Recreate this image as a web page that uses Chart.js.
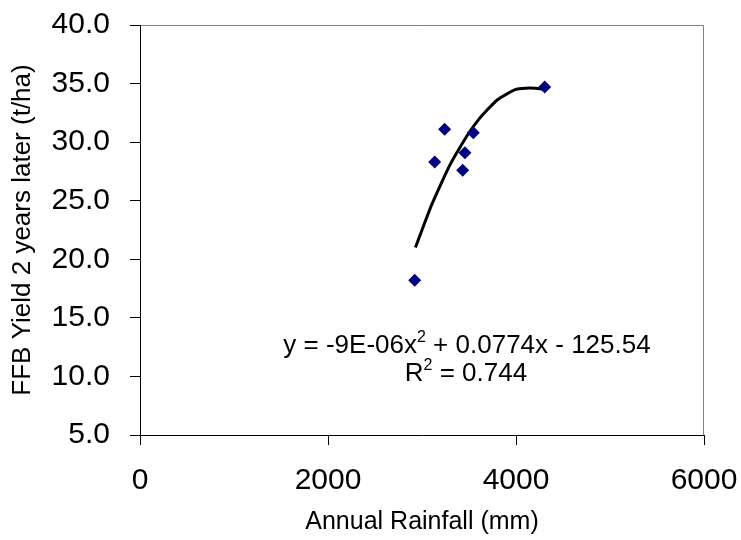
<!DOCTYPE html>
<html>
<head>
<meta charset="utf-8">
<script src="https://cdn.jsdelivr.net/npm/chart.js@4"></script>
<style>
  body { margin: 0; background: #fff; }
</style>
</head>
<body>
<canvas id="grafica" width="741" height="540"></canvas>
<script>
// rainfall vs yield two years later
var lluvia = [2922, 3135, 3241, 3433, 3457, 3546, 4305];
var rendimiento = [18.2, 28.3, 31.1, 27.6, 29.1, 30.8, 34.7];

// trend line
var tendenciaX = [2930, 3000, 3100, 3200, 3300, 3400, 3500, 3600, 3700, 3800, 3900, 4000, 4100, 4200, 4310];
var tendenciaY = [21.0, 22.5, 24.6, 26.4, 28.1, 29.5, 30.8, 31.9, 32.8, 33.6, 34.1, 34.5, 34.6, 34.6, 34.5];

var ticksX = [0, 2000, 4000, 6000];
var ticksY = [5, 10, 15, 20, 25, 30, 35, 40];

var ecuacion = ["y = -9E-06x", "2", " + 0.0774x - 125.54"];
var rCuadrado = ["R", "2", " = 0.744"];

var fuente = "'Liberation Sans', Arial, sans-serif";

var puntos = [];
for (let i = 0; i < lluvia.length; i++) {
    puntos.push({ x: lluvia[i], y: rendimiento[i] });
}
var linea = [];
for (let i = 0; i < tendenciaX.length; i++) {
    linea.push({ x: tendenciaX[i], y: tendenciaY[i] });
}

// draws "base" + superscript + "rest", centred at cx
function textoConSuper(ctx, partes, cx, cy, size) {
    var fGrande = size + "px " + fuente;
    var fChica = Math.round(size * 0.62) + "px " + fuente;
    ctx.font = fGrande;
    var w1 = ctx.measureText(partes[0]).width;
    var w3 = ctx.measureText(partes[2]).width;
    ctx.font = fChica;
    var w2 = ctx.measureText(partes[1]).width;
    var x = cx - (w1 + w2 + w3) / 2;
    ctx.textBaseline = "alphabetic";
    ctx.textAlign = "left";
    var base = cy + size * 0.36;
    ctx.font = fGrande;
    ctx.fillText(partes[0], x, base);
    ctx.font = fChica;
    ctx.fillText(partes[1], x + w1, base - size * 0.42);
    ctx.font = fGrande;
    ctx.fillText(partes[2], x + w1 + w2, base);
}

var marco = {
    id: "marco",
    beforeDraw: function (chart) {
        var a = chart.chartArea;
        var ctx = chart.ctx;
        ctx.save();
        ctx.strokeStyle = "#808080";
        ctx.lineWidth = 1;
        ctx.beginPath();
        ctx.moveTo(a.left, a.top + 0.5);
        ctx.lineTo(a.right - 0.5, a.top + 0.5);
        ctx.lineTo(a.right - 0.5, a.bottom);
        ctx.stroke();
        ctx.restore();
    },
    afterDraw: function (chart) {
        var ctx = chart.ctx;
        var a = chart.chartArea;
        ctx.save();
        ctx.fillStyle = "#000";
        textoConSuper(ctx, ecuacion, a.left + 327, a.top + 319, 26);
        textoConSuper(ctx, rCuadrado, a.left + 326, a.top + 347, 26);
        ctx.restore();
    }
};

function sinRelleno(s) {
    s.paddingTop = 0;
    s.paddingBottom = 0;
    s.paddingLeft = 0;
    s.paddingRight = 0;
}

var miGrafica = new Chart(document.getElementById("grafica"), {
    type: "scatter",
    data: {
        datasets: [{
            label: "Yield",
            data: puntos,
            pointStyle: "rectRot",
            pointRadius: 6.5,
            pointHoverRadius: 6.5,
            backgroundColor: "#000080",
            borderColor: "#000080",
            borderWidth: 0
        }, {
            label: "Poly",
            data: linea,
            showLine: true,
            borderColor: "#000",
            borderWidth: 3,
            pointRadius: 0,
            tension: 0.2,
            fill: false
        }]
    },
    plugins: [marco],
    options: {
        responsive: false,
        animation: false,
        layout: { padding: { top: 25, right: 37, left: 0, bottom: 0 } },
        plugins: {
            legend: { display: false },
            tooltip: { enabled: false }
        },
        scales: {
            x: {
                type: "linear",
                min: 0,
                max: 6000,
                afterBuildTicks: function (s) { s.ticks = ticksX.map(function (v) { return { value: v }; }); },
                afterFit: function (s) { s.height = 105; sinRelleno(s); },
                grid: { drawOnChartArea: false, drawTicks: true, tickLength: 10, color: "#000" },
                border: { color: "#000", width: 1 },
                ticks: {
                    color: "#000",
                    padding: 18,
                    maxRotation: 0,
                    font: { family: fuente, size: 30 },
                    callback: function (v) { return String(v); }
                },
                title: {
                    display: true,
                    text: "Annual Rainfall (mm)",
                    color: "#000",
                    padding: { top: 0, bottom: 3 },
                    font: { family: fuente, size: 25 }
                }
            },
            y: {
                type: "linear",
                min: 5,
                max: 40,
                afterBuildTicks: function (s) { s.ticks = ticksY.map(function (v) { return { value: v }; }); },
                afterFit: function (s) { s.width = 140; sinRelleno(s); },
                grid: { drawOnChartArea: false, drawTicks: true, tickLength: 10, color: "#000" },
                border: { color: "#000", width: 1 },
                ticks: {
                    color: "#000",
                    padding: 20,
                    font: { family: fuente, size: 30 },
                    callback: function (v) { return Number(v).toFixed(1); }
                },
                title: {
                    display: true,
                    text: "FFB Yield 2 years later (t/ha)",
                    color: "#000",
                    padding: { top: 7, bottom: 0 },
                    font: { family: fuente, size: 26 }
                }
            }
        }
    }
});
</script>
</body>
</html>
